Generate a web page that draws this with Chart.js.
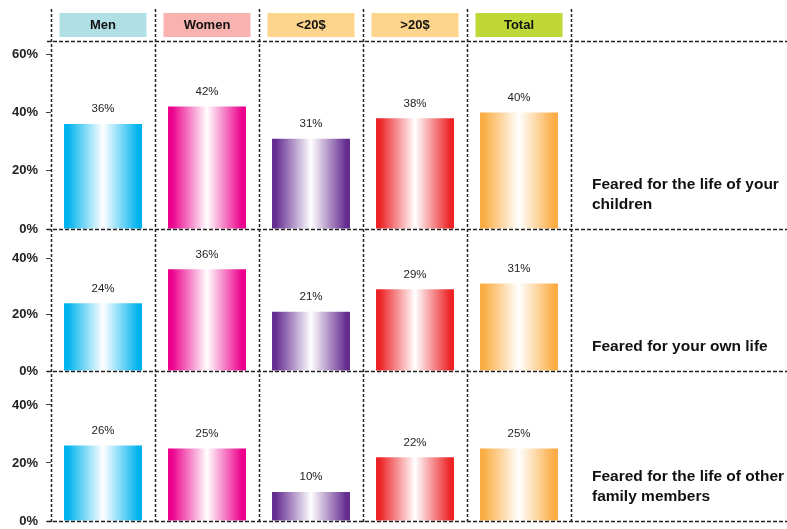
<!DOCTYPE html>
<html>
<head>
<meta charset="utf-8">
<script src="https://cdn.jsdelivr.net/npm/chart.js@4"></script>
<style>
  html, body { margin: 0; padding: 0; background: #fff; }
</style>
</head>
<body>
<canvas id="chart" width="787" height="529"></canvas>
<script>
const groups = ["Men", "Women", "<20$", ">20$", "Total"];
const questions = [
  ["Feared for the life of your", "children"],
  ["Feared for your own life"],
  ["Feared for the life of other", "family members"]
];
const childrenValues = [36, 42, 31, 38, 40];
const ownLifeValues = [24, 36, 21, 29, 31];
const familyValues = [26, 25, 10, 22, 25];
const yTickValues = [0, 20, 40, 60];

const headerColors = ["#b0dfe5", "#f8b2b0", "#fed58c", "#fed58c", "#bfd837"];
const barColors = ["#00b3ee", "#ec008c", "#662d91", "#ec2427", "#fbad45"];
const FONT = "'Liberation Sans', Arial, sans-serif";

function barFill(ctx) {
  const chart = ctx.chart;
  const x = chart.scales.x;
  const c = barColors[ctx.dataIndex];
  if (!x || !x.width) return c;
  const cx = x.getPixelForValue(ctx.dataIndex);
  const half = (x.width / groups.length) * 0.75 / 2;
  const g = chart.ctx.createLinearGradient(cx - half, 0, cx + half, 0);
  g.addColorStop(0, c);
  g.addColorStop(0.05, c);
  g.addColorStop(0.5, "#ffffff");
  g.addColorStop(0.95, c);
  g.addColorStop(1, c);
  return g;
}

function yAxis(max, weight, stackWeight) {
  return {
    type: "linear",
    position: "left",
    stack: "panels",
    stackWeight: stackWeight,
    weight: weight,
    min: 0,
    max: max,
    afterBuildTicks: (s) => {
      s.ticks = yTickValues.filter((v) => v <= s.max).map((v) => ({ value: v }));
    },
    afterFit: (s) => {
      s.width = 51;
      s.paddingTop = 0;
      s.paddingBottom = 0;
    },
    border: { display: false },
    grid: { drawOnChartArea: false, drawTicks: true, tickLength: 5, color: "#444", lineWidth: 1 },
    ticks: {
      padding: 8,
      color: "#222",
      font: { family: FONT, size: 13, weight: "bold" },
      callback: (v) => v + "%"
    }
  };
}

function line(ctx, x1, y1, x2, y2) {
  ctx.beginPath();
  ctx.moveTo(x1, y1);
  ctx.lineTo(x2, y2);
  ctx.stroke();
}

const decor = {
  id: "decor",
  afterDraw(chart) {
    const ctx = chart.ctx;
    const x = chart.scales.x;
    const area = chart.chartArea;
    const colW = (x.right - x.left) / groups.length;
    const yScales = [chart.scales.y1, chart.scales.y2, chart.scales.y3];
    ctx.save();

    // header boxes
    groups.forEach((g, i) => {
      const cx = x.getPixelForValue(i);
      ctx.fillStyle = headerColors[i];
      ctx.fillRect(cx - 43.5, 13, 87, 24);
      ctx.fillStyle = "#111";
      ctx.font = "bold 13px " + FONT;
      ctx.textAlign = "center";
      ctx.textBaseline = "middle";
      ctx.fillText(g, cx, 25.5);
    });

    // dashed separators
    ctx.strokeStyle = "#222";
    ctx.lineWidth = 1.5;
    ctx.setLineDash([3, 2]);
    for (let i = 0; i <= groups.length; i++) {
      const px = Math.round(x.left + i * colW) + 0.5;
      line(ctx, px, 9, px, area.bottom + 1);
    }
    ctx.setLineDash([4, 2]);
    const topY = Math.round(area.top) + 0.5;
    line(ctx, 47, topY, chart.width, topY);
    yScales.forEach((s) => {
      const by = Math.round(s.bottom) + 0.5;
      line(ctx, 47, by, chart.width, by);
    });
    ctx.setLineDash([]);

    // question labels
    ctx.fillStyle = "#111";
    ctx.font = "bold 15.5px " + FONT;
    ctx.textAlign = "left";
    ctx.textBaseline = "middle";
    questions.forEach((lines, qi) => {
      const bottom = yScales[qi].bottom - 24;
      lines.forEach((t, li) => {
        ctx.fillText(t, x.right + 21, bottom - (lines.length - 1 - li) * 20);
      });
    });

    // value labels
    ctx.fillStyle = "#222";
    ctx.font = "11.5px " + FONT;
    ctx.textAlign = "center";
    ctx.textBaseline = "bottom";
    chart.data.datasets.forEach((ds, di) => {
      chart.getDatasetMeta(di).data.forEach((bar, i) => {
        ctx.fillText(ds.data[i] + "%", bar.x, bar.y - 9);
      });
    });
    ctx.restore();
  }
};

const dataset = (label, values, axis) => ({
  label: label,
  data: values,
  yAxisID: axis,
  grouped: false,
  barPercentage: 0.75,
  categoryPercentage: 1,
  borderWidth: 0,
  backgroundColor: barFill
});

new Chart(document.getElementById("chart"), {
  type: "bar",
  data: {
    labels: groups,
    datasets: [
      dataset(questions[0].join(" "), childrenValues, "y1"),
      dataset(questions[1].join(" "), ownLifeValues, "y2"),
      dataset(questions[2].join(" "), familyValues, "y3")
    ]
  },
  options: {
    responsive: false,
    animation: false,
    events: [],
    layout: { padding: { top: 41, right: 216, bottom: 8, left: 0 } },
    plugins: { legend: { display: false }, tooltip: { enabled: false } },
    scales: {
      x: { type: "category", display: false, offset: true },
      y1: yAxis(64.5, 3, 188),
      y2: yAxis(50.3, 2, 142),
      y3: yAxis(51.7, 1, 150)
    }
  },
  plugins: [decor]
});
</script>
</body>
</html>
